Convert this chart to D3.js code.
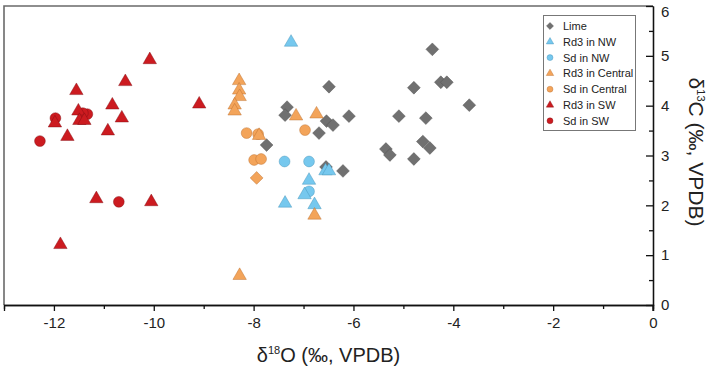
<!DOCTYPE html>
<html><head><meta charset="utf-8">
<script src="https://cdn.jsdelivr.net/npm/d3@7"></script>
<style>body{margin:0;background:#fff}svg{display:block}text{font-family:"Liberation Sans",Arial,sans-serif}</style>
</head><body><svg id="c" width="708" height="367"></svg>
<script>
// δ18O, δ13C pairs per group
const lime = [[-7.33,3.97],[-7.37,3.81],[-6.49,4.38],[-6.09,3.79],[-6.54,3.69],[-6.41,3.61],[-6.69,3.45],[-7.74,3.21],[-6.55,2.77],[-6.21,2.69],[-5.09,3.79],[-5.35,3.13],[-5.27,3.01],[-4.79,4.36],[-4.79,2.93],[-4.42,5.13],[-4.25,4.47],[-4.13,4.47],[-3.68,4.01],[-4.55,3.75],[-4.61,3.28],[-4.47,3.15]];
const limeCentral = [[-7.94,2.55]];
const rd3NW = [[-7.25,5.27],[-6.56,2.69],[-6.49,2.69],[-6.89,2.50],[-6.98,2.21],[-7.37,2.04],[-6.78,2.01]];
const sdNW = [[-7.38,2.88],[-6.89,2.88],[-6.89,2.28]];
const rd3Central = [[-8.29,4.50],[-8.29,4.31],[-8.28,4.18],[-8.38,4.01],[-8.38,3.89],[-7.15,3.79],[-6.74,3.83],[-7.89,3.40],[-6.78,1.80],[-8.28,0.59]];
const sdCentral = [[-8.14,3.45],[-7.91,3.43],[-6.97,3.51],[-7.99,2.91],[-7.85,2.93]];
const rd3SW = [[-10.08,4.92],[-10.57,4.48],[-11.55,4.30],[-10.83,4.01],[-9.09,4.03],[-11.51,3.89],[-10.64,3.75],[-11.98,3.65],[-11.49,3.70],[-11.39,3.70],[-10.92,3.49],[-11.73,3.38],[-11.15,2.13],[-10.05,2.07],[-11.87,1.21]];
const sdSW = [[-11.97,3.75],[-11.33,3.83],[-11.42,3.85],[-12.28,3.29],[-10.70,2.07]];
const xTicks = [-12,-10,-8,-6,-4,-2,0];
const yTicks = [0,1,2,3,4,5,6];
const legendLabels = ["Lime","Rd3 in NW","Sd in NW","Rd3 in Central","Sd in Central","Rd3 in SW","Sd in SW"];

const svg = d3.select("#c");
const x = d3.scaleLinear().domain([-13,0]).range([4,653]);
const y = d3.scaleLinear().domain([0,6]).range([305,6]);

const C = {
  gray:["#707070","#505050"], blue:["#76c8ee","#3f8db5"], orange:["#f3a45a","#b86a2a"], red:["#cc1b20","#7d0d10"]
};
const series = [
  {data:lime, shape:"diamond", col:C.gray},
  {data:limeCentral, shape:"diamond", col:C.orange},
  {data:sdNW, shape:"circle", col:C.blue},
  {data:rd3NW, shape:"triangle", col:C.blue},
  {data:sdCentral, shape:"circle", col:C.orange},
  {data:rd3Central, shape:"triangle", col:C.orange},
  {data:sdSW, shape:"circle", col:C.red},
  {data:rd3SW, shape:"triangle", col:C.red}
];
function symPath(shape, s){
  if(shape==="diamond") return d3.symbol(d3.symbolSquare, 82*s*s)();
  if(shape==="triangle") return d3.symbol(d3.symbolTriangle, 78*s*s)();
  return d3.symbol(d3.symbolCircle, 92*s*s)();
}
// frame
svg.append("path").attr("d",`M${x(-13)},${y(0)}V${y(6)}H${x(0)}`).attr("fill","none").attr("stroke","#6a6a6a").attr("stroke-width",1.6);

// points
series.forEach(sr=>{
  svg.append("g").selectAll("path").data(sr.data).join("path")
    .attr("d",symPath(sr.shape,1))
    .attr("transform",d=>`translate(${x(d[0])},${y(d[1])})`+(sr.shape==="diamond"?" rotate(45)":""))
    .attr("fill",sr.col[0]).attr("stroke",sr.col[1]).attr("stroke-width",0.6).attr("stroke-opacity",0.7);
});

// axes
const xa = svg.append("g").attr("transform",`translate(0,${y(0)})`)
  .call(d3.axisBottom(x).tickValues(xTicks).tickSize(6).tickPadding(6).tickFormat(d=>String(d)));
const xm = svg.append("g").attr("transform",`translate(0,${y(0)})`)
  .call(d3.axisBottom(x).tickValues(d3.range(-11,0,2)).tickSize(4).tickFormat(""));
const ya = svg.append("g").attr("transform",`translate(${x(0)},0)`)
  .call(d3.axisRight(y).tickValues(yTicks).tickSizeInner(-7).tickSizeOuter(0).tickPadding(8).tickFormat(d=>String(d)));
const ym = svg.append("g").attr("transform",`translate(${x(0)},0)`)
  .call(d3.axisRight(y).tickValues(d3.range(0.5,6,1)).tickSizeInner(-4).tickSizeOuter(0).tickFormat(""));
[xa,xm,ya,ym].forEach(g=>{
  g.select(".domain").attr("stroke","#111").attr("stroke-width",1.3);
  g.selectAll(".tick line").attr("stroke","#111").attr("stroke-width",1.3);
  g.selectAll("text").attr("font-size",15).attr("fill","#222").attr("font-family","'Liberation Sans',Arial,sans-serif");
});
ya.selectAll(".tick text").filter(d=>d===6).attr("dy","0.7em");
// extend right axis to bottom tick
svg.append("line").attr("x1",x(0)).attr("x2",x(0)).attr("y1",y(0)).attr("y2",y(0)+6).attr("stroke","#111").attr("stroke-width",1.3);

// axis titles
const xt = svg.append("text").attr("x",(x(-13)+x(0))/2).attr("y",362).attr("text-anchor","middle").attr("font-size",20).attr("fill","#222");
xt.append("tspan").text("δ");
xt.append("tspan").attr("font-size",11).attr("dy",-8).text("18");
xt.append("tspan").attr("dy",8).text("O (‰, VPDB)");
const yt = svg.append("text").attr("transform",`translate(689,152) rotate(90)`).attr("text-anchor","middle").attr("font-size",21).attr("fill","#222");
yt.append("tspan").text("δ");
yt.append("tspan").attr("font-size",11).attr("dy",-8).text("13");
yt.append("tspan").attr("dy",8).text("C (‰, VPDB)");

// legend
const lg = svg.append("g");
lg.append("rect").attr("x",543.5).attr("y",15.5).attr("width",92).attr("height",115).attr("fill","#fff").attr("stroke","#777").attr("stroke-width",1);
const legShapes = [["diamond",C.gray],["triangle",C.blue],["circle",C.blue],["triangle",C.orange],["circle",C.orange],["triangle",C.red],["circle",C.red]];
legendLabels.forEach((t,i)=>{
  const yy = 26 + i*15.8;
  lg.append("path").attr("d",symPath(legShapes[i][0],0.55))
    .attr("transform",`translate(550,${yy})`+(legShapes[i][0]==="diamond"?" rotate(45)":""))
    .attr("fill",legShapes[i][1][0]).attr("stroke",legShapes[i][1][1]).attr("stroke-width",0.4);
  lg.append("text").attr("x",563).attr("y",yy+4).attr("font-size",11).attr("fill","#222").text(t);
});
</script></body></html>
